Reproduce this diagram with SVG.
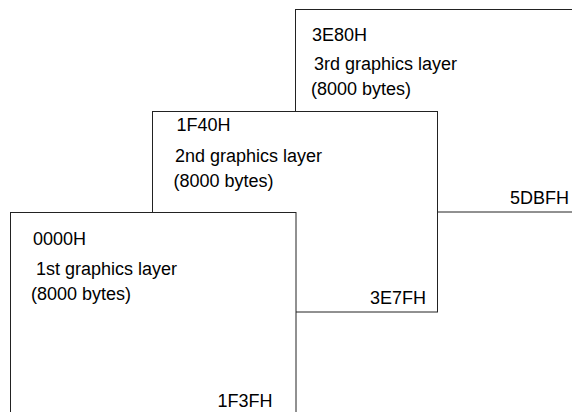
<svg xmlns="http://www.w3.org/2000/svg" width="572" height="412" viewBox="0 0 572 412">
<style>
.box{fill:#fff;stroke:#222;stroke-width:1}
.t{font-family:"Liberation Sans",Arial,sans-serif;font-size:18px;fill:#000}
.r{text-anchor:end}
</style>
<rect width="572" height="412" fill="#fff"/>
<g id="layer3">
<rect class="box" x="295.5" y="9.5" width="300" height="202.5"/>
<text class="t" x="312" y="40.5">3E80H</text>
<text class="t" x="314" y="70">3rd graphics layer</text>
<text class="t" x="311" y="95">(8000 bytes)</text>
<text class="t r" x="569" y="204">5DBFH</text>
</g>
<g id="layer2">
<rect class="box" x="152.5" y="111.5" width="285" height="200.5"/>
<text class="t" x="176.5" y="130.5">1F40H</text>
<text class="t" x="175" y="161.5">2nd graphics layer</text>
<text class="t" x="173.5" y="186.5">(8000 bytes)</text>
<text class="t r" x="426" y="304">3E7FH</text>
</g>
<g id="layer1">
<rect class="box" x="10.5" y="212.5" width="285.5" height="220"/>
<text class="t" x="33" y="244.7">0000H</text>
<text class="t" x="36" y="274.5">1st graphics layer</text>
<text class="t" x="31" y="300">(8000 bytes)</text>
<text class="t r" x="272.5" y="406.7">1F3FH</text>
</g>
</svg>
